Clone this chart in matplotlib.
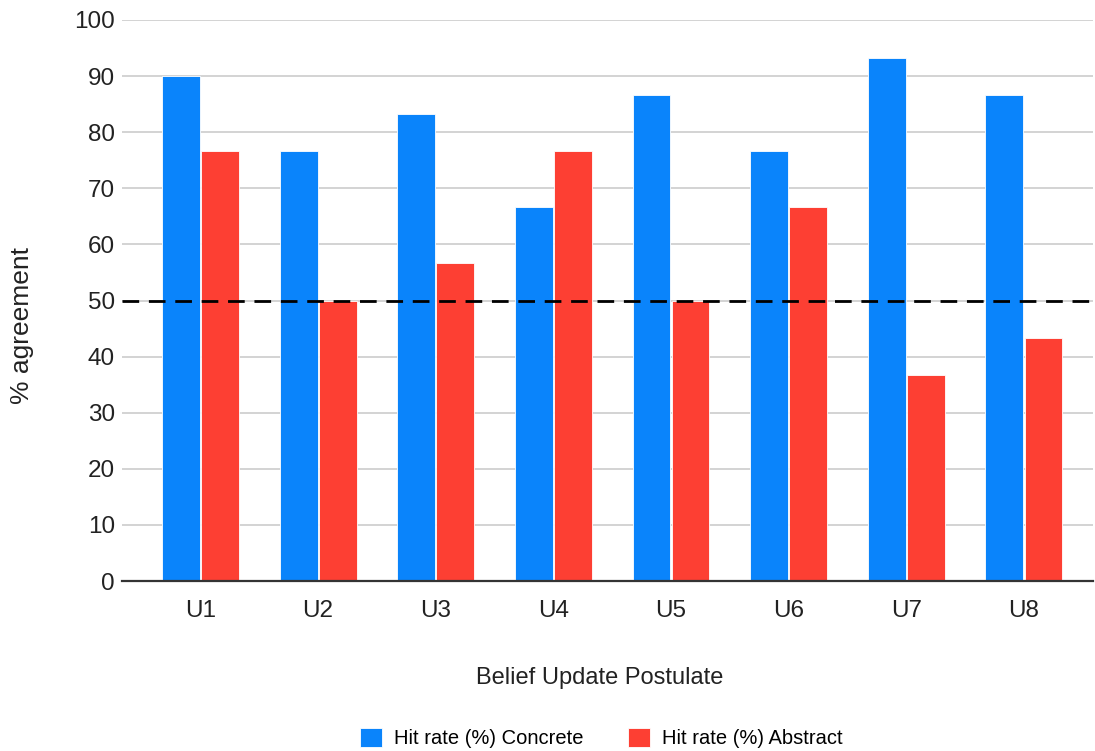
"""Hit rate per belief update postulate, concrete vs. abstract framing."""

import matplotlib.pyplot as plt
import numpy as np

plt.rcParams["font.family"] = ["Liberation Sans", "DejaVu Sans"]

postulates = ["U1", "U2", "U3", "U4", "U5", "U6", "U7", "U8"]
concrete = [90.0, 76.7, 83.3, 66.7, 86.7, 76.7, 93.3, 86.7]
abstract = [76.7, 50.0, 56.7, 76.7, 50.0, 66.7, 36.7, 43.3]
chance_level = 50

BLUE = "#0a84fb"
RED = "#fd3f33"
TEXT = "#222222"

fig = plt.figure(figsize=(10.95, 7.51), dpi=100)
ax = fig.add_axes([122 / 1095, 1 - 581 / 751, 971 / 1095, 561 / 751])

x = np.arange(len(postulates))
w = 0.322
ax.bar(x - w / 2 - 0.005, concrete, width=w, color=BLUE, edgecolor="white",
       linewidth=0.6, zorder=3, label="Hit rate (%) Concrete")
ax.bar(x + w / 2 + 0.005, abstract, width=w, color=RED, edgecolor="white",
       linewidth=0.6, zorder=3, label="Hit rate (%) Abstract")

ax.axhline(chance_level, color="black", linestyle=(0, (6, 3.5)), linewidth=2, zorder=4)

ax.set_ylim(0, 100)
ax.set_xlim(-0.667, len(postulates) - 1 + 0.587)
ax.set_yticks(np.arange(0, 101, 10))
ax.set_xticks(x)
ax.set_xticklabels(postulates)
ax.tick_params(axis="both", length=0, labelsize=17.5, colors=TEXT)
ax.tick_params(axis="y", pad=5)
ax.tick_params(axis="x", pad=14)

ax.grid(axis="y", color="#cccccc", linewidth=1.2, zorder=0)
for side in ["top", "right", "left"]:
    ax.spines[side].set_visible(False)
ax.spines["bottom"].set_color("#333333")
ax.spines["bottom"].set_linewidth(1.6)
ax.spines["bottom"].set_zorder(5)

ax.set_ylabel("% agreement", fontsize=19, color=TEXT, va="center")
ax.yaxis.set_label_coords(-(122 - 22) / 971, (581 - 326) / 561)
ax.set_xlabel("Belief Update Postulate", fontsize=17, color=TEXT, va="center")
ax.xaxis.set_label_coords((600 - 122) / 971, -(678 - 581) / 561)

ax.legend(loc="center", bbox_to_anchor=((601 - 122) / 971, -(738 - 581) / 561),
          ncol=2, frameon=False, fontsize=14.5, handlelength=1.1, handleheight=1.1,
          columnspacing=2.2, handletextpad=0.6, borderaxespad=0)

fig.savefig("out.png", dpi=100)
